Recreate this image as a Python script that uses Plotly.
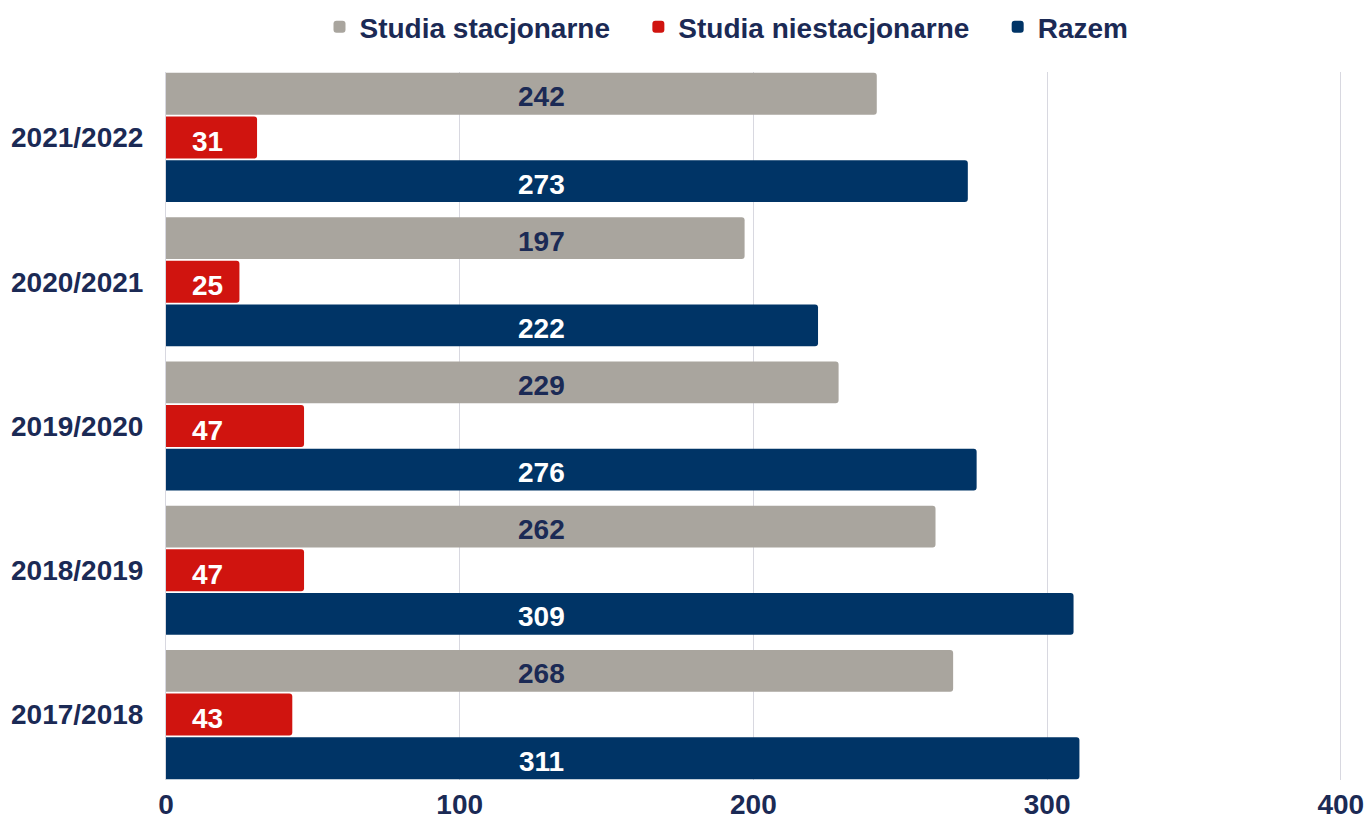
import plotly.graph_objects as go

years = ["2017/2018", "2018/2019", "2019/2020", "2020/2021", "2021/2022"]
stacjonarne = [268, 262, 229, 197, 242]
niestacjonarne = [43, 47, 47, 25, 31]
razem = [311, 309, 276, 222, 273]
x_ticks = [0, 100, 200, 300, 400]

GREY = "#A9A59E"
RED = "#D0140F"
NAVY = "#003466"
TXT = "#1B2A55"
FONT = "Liberation Sans"
FS = 28
PAD = "\u00a0\u00a0\u00a0"

BARGAP = 0.092
fig = go.Figure()
series = [
    ("Razem", razem, NAVY),
    ("Studia niestacjonarne", niestacjonarne, RED),
    ("Studia stacjonarne", stacjonarne, GREY),
]
for name, vals, col in series:
    fig.add_trace(go.Bar(
        y=years, x=vals, name=name + PAD, orientation="h",
        marker=dict(color=col, line=dict(width=0), cornerradius=3),
        hovertemplate=name + ": %{x}<extra></extra>",
    ))

slot = (1 - BARGAP) / 3
offsets = {"Razem": -slot, "Studia niestacjonarne": 0.0, "Studia stacjonarne": slot}
annotations = []
for name, vals, col in series:
    for i, v in enumerate(vals):
        if name == "Studia niestacjonarne":
            annotations.append(dict(x=8.0, y=i + offsets[name], xref="x", yref="y",
                                    text=f"<b>{v}</b>", showarrow=False, xanchor="left",
                                    yshift=-4,
                                    font=dict(family=FONT, size=FS, color="white")))
        else:
            annotations.append(dict(x=127.9, y=i + offsets[name], xref="x", yref="y",
                                    text=f"<b>{v}</b>", showarrow=False, xanchor="center",
                                    yshift=-3,
                                    font=dict(family=FONT, size=FS,
                                              color=TXT if name == "Studia stacjonarne" else "white")))

W, H = 1369, 821
fig.update_layout(
    width=W, height=H,
    margin=dict(l=166, r=27, t=72, b=41, autoexpand=False),
    barmode="group", bargap=BARGAP, bargroupgap=0.04,
    plot_bgcolor="white", paper_bgcolor="white",
    font=dict(family=FONT, size=FS, color=TXT),
    legend=dict(orientation="h", traceorder="reversed", x=738 / W, xanchor="center",
                xref="container", yref="container", y=1 - 27 / H, yanchor="middle",
                font=dict(family=FONT, size=FS, color=TXT, weight="bold"),
                itemwidth=30),
    annotations=annotations,
    showlegend=True,
)
fig.update_xaxes(range=[0, 400.4], tickvals=x_ticks, ticktext=[f"<b>{t}</b>" for t in x_ticks],
                 showgrid=True, gridcolor="#D8D8E0", gridwidth=1.3, zeroline=False,
                 showline=False, ticks="", ticklabelstandoff=5, automargin=False,
                 tickfont=dict(family=FONT, size=FS, color=TXT))
fig.update_yaxes(range=[-(1 - BARGAP) / 2, 4 + (1 - BARGAP) / 2],
                 tickvals=years, ticktext=[f"<b>{y}</b>" for y in years],
                 showgrid=False, zeroline=False, showline=True, linecolor="#D8D8E0", linewidth=1,
                 ticks="", ticklabelstandoff=16, automargin=False,
                 tickfont=dict(family=FONT, size=FS, color=TXT))

fig.write_html(
    "out.html",
    config={"displayModeBar": False},
    post_script="document.body.style.margin='0';document.body.style.overflow='hidden';",
)
